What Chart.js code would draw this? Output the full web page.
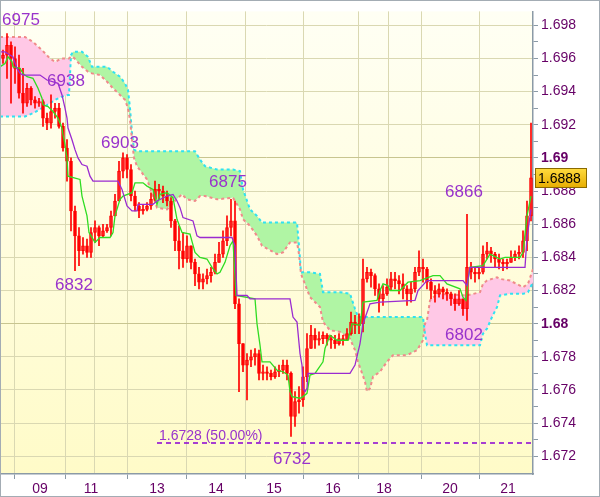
<!DOCTYPE html>
<html>
<head>
<meta charset="utf-8">
<script src="https://cdn.jsdelivr.net/npm/chart.js@4.4.0/dist/chart.umd.min.js"></script>
<style>
  body { margin: 0; background: #fff; }
  #wrap { width: 600px; height: 497px; }
</style>
</head>
<body>
<div id="wrap"><canvas id="myChart" width="600" height="497"></canvas></div>
<script>
// Candles (one per bar index, open = previous close)
const firstOpen = 1.6960;
const candleClose = [
  1.6962, 1.6968, 1.6960, 1.6954, 1.6939, 1.6933, 1.6942, 1.6935, 1.6933, 1.6934,
  1.6924, 1.6921, 1.6928, 1.6930, 1.6919, 1.6906, 1.6898, 1.6868, 1.6853, 1.6844,
  1.6847, 1.6843, 1.6855, 1.6858, 1.6853, 1.6856, 1.6858, 1.6865, 1.6874, 1.6892,
  1.6900, 1.6893, 1.6877, 1.6871, 1.6868, 1.6869, 1.6871, 1.6875, 1.6881, 1.6880,
  1.6877, 1.6874, 1.6862, 1.6850, 1.6844, 1.6839, 1.6847, 1.6837, 1.6830, 1.6825,
  1.6827, 1.6829, 1.6831, 1.6837, 1.6842, 1.6850, 1.6858, 1.6862, 1.6812, 1.6788,
  1.6775, 1.6778, 1.6780, 1.6782, 1.6770, 1.6771, 1.6770, 1.6768, 1.6771, 1.6772,
  1.6775, 1.6770, 1.6744, 1.6753, 1.6754, 1.6768, 1.6785, 1.6793, 1.6790, 1.6791,
  1.6793, 1.6791, 1.6790, 1.6788, 1.6791, 1.6790, 1.6794, 1.6801, 1.6799, 1.6800,
  1.6827, 1.6831, 1.6829, 1.6821, 1.6815, 1.6818, 1.6822, 1.6827, 1.6826, 1.6824,
  1.6821, 1.6818, 1.6821, 1.6831, 1.6834, 1.6833, 1.6825, 1.6820, 1.6818, 1.6821,
  1.6819, 1.6818, 1.6815, 1.6812, 1.6815, 1.6809, 1.6834, 1.6831, 1.6830, 1.6831,
  1.6842, 1.6844, 1.6842, 1.6839, 1.6837, 1.6836, 1.6837, 1.6840, 1.6842, 1.6843,
  1.6850, 1.6865, 1.6888
];
const candleHigh = [
  1.6965, 1.6975, 1.6970, 1.6967, 1.6962, 1.6954, 1.6945, 1.6943, 1.6937, 1.6936,
  1.6935, 1.6927, 1.6938, 1.6933, 1.6933, 1.6921, 1.6911, 1.6900, 1.6871, 1.6858,
  1.6852, 1.6851, 1.6858, 1.6862, 1.6859, 1.6860, 1.6860, 1.6868, 1.6878, 1.6898,
  1.6903, 1.6902, 1.6896, 1.6880, 1.6873, 1.6872, 1.6873, 1.6879, 1.6886, 1.6884,
  1.6883, 1.6880, 1.6876, 1.6863, 1.6859, 1.6855, 1.6853, 1.6847, 1.6839, 1.6834,
  1.6830, 1.6833, 1.6834, 1.6842, 1.6849, 1.6856, 1.6865, 1.6875, 1.6874, 1.6815,
  1.6788, 1.6782, 1.6784, 1.6785, 1.6784, 1.6775, 1.6774, 1.6772, 1.6774, 1.6775,
  1.6778, 1.6778, 1.6771, 1.6759, 1.6762, 1.6774, 1.6794, 1.6799, 1.6797, 1.6795,
  1.6795, 1.6794, 1.6793, 1.6793, 1.6794, 1.6793, 1.6797, 1.6807, 1.6805, 1.6806,
  1.6839, 1.6834, 1.6833, 1.6830, 1.6824, 1.6823, 1.6827, 1.6831, 1.6831, 1.6829,
  1.6830, 1.6823, 1.6825, 1.6834, 1.6844, 1.6839, 1.6834, 1.6827, 1.6823, 1.6824,
  1.6822, 1.6821, 1.6819, 1.6818, 1.6820, 1.6815, 1.6866, 1.6837, 1.6834, 1.6834,
  1.6847, 1.6849, 1.6846, 1.6843, 1.6842, 1.6839, 1.6839, 1.6844, 1.6844, 1.6847,
  1.6856, 1.6874, 1.6921
];
const candleLow = [
  1.6957, 1.6948, 1.6933, 1.6945, 1.6936, 1.6927, 1.6931, 1.6932, 1.6930, 1.6931,
  1.6919, 1.6917, 1.6918, 1.6924, 1.6918, 1.6904, 1.6886, 1.6856, 1.6832, 1.6835,
  1.6842, 1.6840, 1.6840, 1.6849, 1.6847, 1.6852, 1.6855, 1.6853, 1.6865, 1.6874,
  1.6888, 1.6888, 1.6874, 1.6868, 1.6864, 1.6866, 1.6868, 1.6869, 1.6874, 1.6875,
  1.6873, 1.6871, 1.6858, 1.6844, 1.6833, 1.6834, 1.6837, 1.6833, 1.6823, 1.6821,
  1.6821, 1.6824, 1.6825, 1.6830, 1.6837, 1.6840, 1.6847, 1.6853, 1.6809, 1.6759,
  1.6771, 1.6754, 1.6774, 1.6775, 1.6766, 1.6766, 1.6766, 1.6766, 1.6767, 1.6768,
  1.6770, 1.6766, 1.6732, 1.6738, 1.6746, 1.6750, 1.6765, 1.6785, 1.6785, 1.6787,
  1.6788, 1.6787, 1.6785, 1.6785, 1.6787, 1.6787, 1.6790, 1.6793, 1.6794, 1.6794,
  1.6795, 1.6825, 1.6822, 1.6817, 1.6807, 1.6811, 1.6817, 1.6820, 1.6821, 1.6818,
  1.6815, 1.6811, 1.6813, 1.6819, 1.6829, 1.6825, 1.6821, 1.6815, 1.6813, 1.6816,
  1.6815, 1.6814, 1.6811, 1.6808, 1.6811, 1.6805, 1.6802, 1.6827, 1.6825, 1.6827,
  1.6830, 1.6839, 1.6837, 1.6834, 1.6833, 1.6832, 1.6833, 1.6837, 1.6838, 1.6839,
  1.6840, 1.6844, 1.6862
];

// Tenkan-sen (green)
const tenkanIdx = [
  -0.75, 0.5, 1.25, 2.25, 2.5, 4.25, 5, 6, 7.5, 8.75, 9.75, 10, 11.25, 12.5, 13.75, 14.25,
  14.75, 15, 15.5, 16, 16.25, 19.25, 19.75, 21, 21.5, 23, 24.25, 26.75, 27.5, 28, 29.25, 30,
  32.25, 33, 35, 36, 37.5, 38.5, 39.25, 41, 42.5, 43.5, 44.75, 46.75, 48, 49.25, 51, 52.25,
  53.5, 54.25, 55.5, 56.75, 57.5, 58.25, 63, 63.5, 64.25, 64.75, 66.75, 68.5, 70, 71.25,
  71.75, 72.25, 74.25, 75, 76, 76.75, 78, 80, 80.5, 81.75, 83.5, 86.25, 87.25, 89.25, 90,
  93.5, 94.25, 95, 96.25, 96.75, 99.25, 101.25, 104.25, 107.5, 109.25, 111, 114.25, 115,
  115.75, 116.25, 116.75, 120, 121.75, 124.25, 125.5, 129.25, 130, 131, 132
];
const tenkanVal = [
  1.6955, 1.6957, 1.6961, 1.6958, 1.6955, 1.6954, 1.6951, 1.6949, 1.6948, 1.6942, 1.6936,
  1.6932, 1.6931, 1.6928, 1.6924, 1.6921, 1.6918, 1.6914, 1.6908, 1.6900, 1.6889, 1.6887,
  1.6877, 1.6865, 1.6855, 1.6849, 1.6852, 1.6852, 1.6855, 1.6865, 1.6875, 1.6877, 1.6879,
  1.6885, 1.6885, 1.6883, 1.6881, 1.6872, 1.6878, 1.6879, 1.6876, 1.6863, 1.6855, 1.6854,
  1.6843, 1.6840, 1.6839, 1.6834, 1.6830, 1.6831, 1.6837, 1.6847, 1.6850, 1.6817, 1.6815,
  1.6800, 1.6787, 1.6777, 1.6777, 1.6772, 1.6771, 1.6769, 1.6759, 1.6756, 1.6755, 1.6756,
  1.6758, 1.6769, 1.6770, 1.6777, 1.6785, 1.6793, 1.6790, 1.6790, 1.6800, 1.6799, 1.6813,
  1.6814, 1.6820, 1.6824, 1.6823, 1.6820, 1.6820, 1.6825, 1.6826, 1.6829, 1.6829, 1.6824,
  1.6821, 1.6816, 1.6814, 1.6826, 1.6834, 1.6835, 1.6842, 1.6839, 1.6840, 1.6840, 1.6843,
  1.6865, 1.6877
];

// Kijun-sen (purple)
const kijunIdx = [
  -0.75, 0.5, 2.5, 3.5, 4.25, 5, 9.25, 11, 13.75, 14.75, 15.5, 16, 16.25, 17.25, 18, 18.75,
  19.75, 21, 21.75, 22.5, 28.75, 29.75, 31, 32.25, 33.5, 33.75, 37.5, 38.5, 41, 42.5, 43.5,
  44.25, 45, 47.5, 48.5, 49.25, 57.25, 58, 58.5, 61, 61.75, 71.75, 72.5, 73.5, 74.25, 74.75,
  75, 75.5, 76, 76.25, 86.75, 88, 89.25, 90, 91.75, 94.25, 103, 103.75, 106, 115, 116,
  116.75, 130.5, 131, 132
];
const kijunVal = [
  1.6964, 1.6964, 1.6961, 1.6954, 1.6951, 1.6950, 1.6950, 1.6947, 1.6945, 1.6938, 1.6930,
  1.6924, 1.6918, 1.6911, 1.6905, 1.6900, 1.6896, 1.6895, 1.6889, 1.6886, 1.6886, 1.6881,
  1.6871, 1.6868, 1.6868, 1.6872, 1.6872, 1.6874, 1.6877, 1.6878, 1.6874, 1.6870, 1.6864,
  1.6862, 1.6853, 1.6852, 1.6852, 1.6847, 1.6817, 1.6817, 1.6815, 1.6815, 1.6804, 1.6801,
  1.6782, 1.6775, 1.6761, 1.6759, 1.6761, 1.6770, 1.6770, 1.6775, 1.6788, 1.6800, 1.6812,
  1.6813, 1.6814, 1.6820, 1.6826, 1.6826, 1.6823, 1.6834, 1.6834, 1.6852, 1.6869
];

// Cloud: span A (cyan edge) and span B (salmon edge)
const cloudIdx = [
  -0.75, 2.5, 5.5, 7.5, 9.75, 11.75, 13, 14.75, 16.25, 16.5, 17, 17.5, 19.75, 21.25, 22.25,
  24.25, 26, 27.5, 29.25, 30.5, 31.25, 31.75, 32.25, 32.75, 33.5, 36, 37.5, 38.5, 41, 42.5,
  44.75, 46, 48, 49.25, 50.5, 53.5, 57.5, 59.25, 60, 61.75, 63.5, 64.75, 68.5, 70, 71.75,
  73.5, 74, 74.5, 76.75, 79.25, 80, 81.75, 84.25, 86.75, 88, 88.75, 90.5, 91, 91.75, 92.5,
  94.25, 96, 97.5, 101, 103.5, 105, 105.5, 106, 106.75, 108.5, 116, 119.25, 120, 121,
  122.25, 123.5, 124.25, 126.75, 130, 131.25, 132.5
];
const spanA = [
  1.6925, 1.6925, 1.6925, 1.6927, 1.6930, 1.6933, 1.6935, 1.6937, 1.6938, 1.6938, 1.6962,
  1.6964, 1.6964, 1.6961, 1.6955, 1.6955, 1.6955, 1.6952, 1.6949, 1.6945, 1.6941, 1.6930,
  1.6915, 1.6905, 1.6904, 1.6904, 1.6904, 1.6904, 1.6904, 1.6904, 1.6904, 1.6904, 1.6904,
  1.6899, 1.6895, 1.6893, 1.6893, 1.6892, 1.6881, 1.6869, 1.6865, 1.6861, 1.6861, 1.6861,
  1.6861, 1.6861, 1.6847, 1.6831, 1.6831, 1.6830, 1.6819, 1.6819, 1.6819, 1.6818, 1.6809,
  1.6804, 1.6804, 1.6804, 1.6804, 1.6804, 1.6804, 1.6804, 1.6804, 1.6804, 1.6804, 1.6804,
  1.6794, 1.6787, 1.6787, 1.6787, 1.6787, 1.6787, 1.6794, 1.6797, 1.6804, 1.6810, 1.6817,
  1.6818, 1.6818, 1.6819, 1.6825
];
const spanB = [
  1.6973, 1.6973, 1.6973, 1.6970, 1.6965, 1.6960, 1.6958, 1.6960, 1.6960, 1.6960, 1.6961,
  1.6961, 1.6955, 1.6952, 1.6951, 1.6950, 1.6946, 1.6942, 1.6938, 1.6935, 1.6930, 1.6923,
  1.6911, 1.6900, 1.6895, 1.6887, 1.6877, 1.6870, 1.6869, 1.6873, 1.6878, 1.6875, 1.6874,
  1.6877, 1.6877, 1.6875, 1.6876, 1.6869, 1.6863, 1.6859, 1.6853, 1.6847, 1.6842, 1.6843,
  1.6849, 1.6849, 1.6842, 1.6830, 1.6816, 1.6810, 1.6801, 1.6796, 1.6795, 1.6791, 1.6784,
  1.6777, 1.6765, 1.6759, 1.6761, 1.6768, 1.6771, 1.6777, 1.6781, 1.6781, 1.6784, 1.6790,
  1.6800, 1.6802, 1.6814, 1.6818, 1.6817, 1.6819, 1.6824, 1.6826, 1.6827, 1.6828, 1.6827,
  1.6826, 1.6822, 1.6824, 1.6833
];

// Axis ticks
const dateTickIdx = [9.25, 22, 23.75, 38.5, 53.25, 67.75, 82.5, 95.25, 97.25, 111.75, 126.25];
const dateTickLabels = ['09', '11', '', '13', '14', '15', '16', '18', '', '20', '21'];
const priceLabels = ['1.672', '1.674', '1.676', '1.678', '1.68', '1.682', '1.684',
  '1.686', '1.688', '1.69', '1.692', '1.694', '1.696', '1.698'];
const boldPrices = ['1.69', '1.68'];

// Swing labels
const pivotText = ['6975', '6938', '6903', '6832', '6875', '6866', '6802', '6732'];
const pivotIdx = [4.5, 15.75, 29.25, 17.75, 56.25, 115.25, 115.25, 72.25];
const pivotPrice = [1.6983, 1.6946, 1.6909, 1.6823, 1.6885, 1.6879, 1.6793, 1.6718];

// 50% retracement
const fiftyLevel = 1.6728;
const fiftyFrom = 38.5;
const fiftyTo = 132.5;
const fiftyText = '1.6728 (50.00%)';
const lastPrice = '1.6888';

const FONT = '"Liberation Sans", Arial, sans-serif';
const LABEL_COLOR = '#660066';
const PIVOT_COLOR = '#9933cc';

let wicks = [], bodies = [], bodyFill = [];
for (let i = 0; i < candleClose.length; i++) {
  let open = i === 0 ? firstOpen : candleClose[i - 1];
  let close = candleClose[i];
  wicks.push({ x: i, y: [candleLow[i], candleHigh[i]] });
  bodies.push({ x: i, y: [Math.min(open, close), Math.max(open, close)] });
  bodyFill.push(close < open ? '#ff0000' : 'rgba(255,90,90,0.35)');
}

function pairs(xs, ys) {
  return xs.map((x, i) => ({ x: x, y: ys[i] }));
}

function isMajor(value) {
  return priceLabels.some(l => Math.abs(parseFloat(l) - value) < 1e-7);
}
function isBold(value) {
  return boldPrices.some(l => Math.abs(parseFloat(l) - value) < 1e-7);
}

const backdrop = {
  id: 'backdrop',
  beforeDraw(chart) {
    let ctx = chart.ctx, a = chart.chartArea;
    ctx.save();
    ctx.fillStyle = '#ffffff';
    ctx.fillRect(0, 0, chart.width, chart.height);
    let g = ctx.createLinearGradient(0, a.top, 0, a.bottom);
    g.addColorStop(0, '#fffff4');
    g.addColorStop(1, '#fffbc8');
    ctx.fillStyle = g;
    ctx.fillRect(a.left, a.top, a.right - a.left, a.bottom - a.top);
    ctx.restore();
  },
  afterDatasetsDraw(chart) {
    let ctx = chart.ctx, xs = chart.scales.x, ys = chart.scales.y;
    ctx.save();
    ctx.fillStyle = PIVOT_COLOR;
    ctx.font = '17px ' + FONT;
    ctx.textAlign = 'center';
    ctx.textBaseline = 'middle';
    pivotText.forEach((t, i) => {
      ctx.fillText(t, xs.getPixelForValue(pivotIdx[i]), ys.getPixelForValue(pivotPrice[i]));
    });
    ctx.font = '14px ' + FONT;
    ctx.textAlign = 'left';
    ctx.textBaseline = 'alphabetic';
    ctx.fillText(fiftyText, xs.getPixelForValue(fiftyFrom) + 2, ys.getPixelForValue(fiftyLevel) - 3);
    ctx.restore();
  },
  afterDraw(chart) {
    let ctx = chart.ctx, a = chart.chartArea, ys = chart.scales.y;
    ctx.save();
    // last price tag
    let y = Math.round(ys.getPixelForValue(parseFloat(lastPrice)));
    let g = ctx.createLinearGradient(0, y - 10, 0, y + 10);
    g.addColorStop(0, '#ffdc40');
    g.addColorStop(1, '#e6ac00');
    ctx.fillStyle = g;
    ctx.fillRect(a.right + 2, y - 10, 52, 20);
    ctx.strokeStyle = '#8a6a00';
    ctx.lineWidth = 1;
    ctx.strokeRect(a.right + 2.5, y - 9.5, 51, 19);
    ctx.fillStyle = '#000000';
    ctx.font = '14px ' + FONT;
    ctx.textBaseline = 'middle';
    ctx.fillText(lastPrice, a.right + 5, y + 1);
    // frame
    ctx.strokeStyle = '#a3acb4';
    ctx.strokeRect(0.5, 0.5, chart.width - 1, chart.height - 1);
    ctx.restore();
  }
};

let ctx = document.getElementById('myChart').getContext('2d');
window.myChart = new Chart(ctx, {
  type: 'line',
  data: {
    datasets: [
      {
        label: 'Span A',
        data: pairs(cloudIdx, spanA),
        borderColor: '#2fe2f2',
        borderWidth: 2,
        borderDash: [3, 3],
        pointRadius: 0,
        tension: 0,
        fill: { target: 1, above: '#b0f5a4', below: '#ffc8e6' },
        order: 10
      },
      {
        label: 'Span B',
        data: pairs(cloudIdx, spanB),
        borderColor: '#f08a8a',
        borderWidth: 2,
        borderDash: [3, 3],
        pointRadius: 0,
        tension: 0,
        fill: false,
        order: 9
      },
      {
        type: 'bar',
        label: 'Wicks',
        data: wicks,
        backgroundColor: '#ff0000',
        borderWidth: 0,
        barThickness: 1,
        grouped: false,
        order: 6
      },
      {
        type: 'bar',
        label: 'Bodies',
        data: bodies,
        backgroundColor: bodyFill,
        borderColor: '#ff0000',
        borderWidth: 1,
        borderSkipped: false,
        barThickness: 3,
        minBarLength: 1,
        grouped: false,
        order: 5
      },
      {
        label: 'Tenkan',
        data: pairs(tenkanIdx, tenkanVal),
        borderColor: '#2fdc22',
        borderWidth: 1.3,
        pointRadius: 0,
        tension: 0,
        fill: false,
        order: 2
      },
      {
        label: 'Kijun',
        data: pairs(kijunIdx, kijunVal),
        borderColor: '#9a2bd0',
        borderWidth: 1.3,
        pointRadius: 0,
        tension: 0,
        fill: false,
        order: 1
      },
      {
        label: '50%',
        data: [{ x: fiftyFrom, y: fiftyLevel }, { x: fiftyTo, y: fiftyLevel }],
        borderColor: '#8a00d4',
        borderWidth: 1.5,
        borderDash: [5, 4],
        pointRadius: 0,
        fill: false,
        order: 0
      }
    ]
  },
  options: {
    responsive: false,
    animation: false,
    devicePixelRatio: 1,
    events: [],
    layout: { padding: { top: 1, left: 1, right: 0, bottom: 1 } },
    plugins: {
      legend: { display: false },
      tooltip: { enabled: false }
    },
    scales: {
      x: {
        type: 'linear',
        min: -0.5,
        max: 132.5,
        offset: false,
        afterBuildTicks: s => { s.ticks = dateTickIdx.map(v => ({ value: v })); },
        afterFit: s => { s.height = 22; },
        ticks: {
          autoSkip: false,
          maxRotation: 0,
          padding: 2,
          color: LABEL_COLOR,
          font: { family: FONT, size: 14 },
          callback: (v, i) => dateTickLabels[i]
        },
        grid: {
          color: '#dad8b2',
          tickLength: 5,
          tickColor: c => (c.tick && c.tick.label === '') ? 'rgba(0,0,0,0)' : '#8b9aa6'
        },
        border: { color: '#8b9aa6', width: 1.5 }
      },
      y: {
        position: 'right',
        min: 1.67093,
        max: 1.69884,
        afterBuildTicks: s => {
          let vals = [];
          priceLabels.forEach((l, i) => {
            vals.push(parseFloat(l));
            if (i < priceLabels.length - 1) vals.push((parseFloat(l) + parseFloat(priceLabels[i + 1])) / 2);
          });
          s.ticks = vals.map(v => ({ value: v }));
        },
        afterFit: s => { s.width = 67; },
        ticks: {
          autoSkip: false,
          padding: 3,
          color: LABEL_COLOR,
          font: c => ({ family: FONT, size: 14, weight: (c.tick && isBold(c.tick.value)) ? 'bold' : 'normal' }),
          callback: v => {
            let l = priceLabels.find(s => Math.abs(parseFloat(s) - v) < 1e-7);
            return l || '';
          }
        },
        grid: {
          color: c => {
            if (!c.tick) return '#dad8b2';
            if (!isMajor(c.tick.value)) return 'rgba(0,0,0,0)';
            return isBold(c.tick.value) ? '#c8c590' : '#dad8b2';
          },
          tickLength: 5,
          tickColor: '#8b9aa6'
        },
        border: { color: '#8b9aa6', width: 1.5 }
      }
    }
  },
  plugins: [backdrop]
});
</script>
</body>
</html>
